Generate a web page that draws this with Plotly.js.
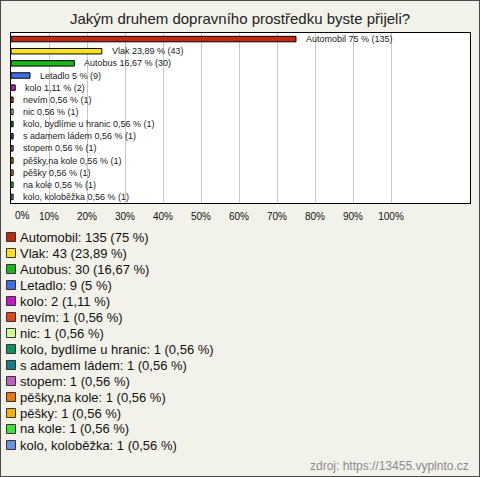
<!DOCTYPE html>
<html>
<head>
<meta charset="utf-8">
<script src="https://cdn.plot.ly/plotly-3.0.1.min.js"></script>
<style>
  html, body { margin: 0; padding: 0; background: #f3f2ea; }
  #chart { width: 478px; height: 475px; border: 1px solid #4a4a4a; }
</style>
</head>
<body>
<div id="chart"></div>
<script>
// ---- data ----
const categories = ["Automobil", "Vlak", "Autobus", "Letadlo", "kolo", "nevím", "nic",
  "kolo, bydlíme u hranic", "s adamem ládem", "stopem", "pěšky,na kole", "pěšky",
  "na kole", "kolo, koloběžka"];
const counts = [135, 43, 30, 9, 2, 1, 1, 1, 1, 1, 1, 1, 1, 1];
const percents = [75, 23.89, 16.67, 5, 1.11, 0.56, 0.56, 0.56, 0.56, 0.56, 0.56, 0.56, 0.56, 0.56];
const colors = ["#c0280f", "#fce21b", "#1cb51c", "#3d6ee6", "#c418c8", "#e2461a", "#ccff99",
  "#10905a", "#1a7d8c", "#c060c0", "#e67a0a", "#f0b400", "#44e03c", "#6a94e0"];
const tickVals = [0, 10, 20, 30, 40, 50, 60, 70, 80, 90, 100];
const tickText = tickVals.map(v => v + "%");

const fmt = v => String(v).replace(".", ",");

// ---- geometry helpers (div pixel -> paper) ----
const W = 478, H = 475;
const M = { l: 10, r: 9, t: 32, b: 273 };
const PW = W - M.l - M.r, PH = H - M.t - M.b;
const px = x => (x - M.l) / PW;
const py = y => (H - M.b - y) / PH;

const tickFont = { family: "Liberation Sans, Arial, sans-serif", size: 10, color: "#111" };
const annotations = [];
const shapes = [];

// first tick label is drawn right of its gridline, as in the reference
annotations.push({
  x: tickVals[0], y: py(214), xref: "x", yref: "paper",
  text: tickText[0], showarrow: false, xanchor: "left", yanchor: "middle",
  xshift: 2, font: tickFont
});
const axisTickText = tickText.slice();
axisTickText[0] = "";

// bar labels
categories.forEach((c, i) => {
  annotations.push({
    x: percents[i], y: i, xref: "x", yref: "y",
    text: c + " " + fmt(percents[i]) + " % (" + counts[i] + ")",
    showarrow: false, xanchor: "left", yanchor: "middle", xshift: 8,
    font: { family: "Liberation Sans, Arial, sans-serif", size: 9, color: "#222" }
  });
});

// legend below
categories.forEach((c, i) => {
  const cy = 236 + 16 * i;
  shapes.push({
    type: "rect", xref: "paper", yref: "paper",
    x0: px(5.5), x1: px(14.5), y0: py(cy + 4.5), y1: py(cy - 4.5),
    fillcolor: colors[i], line: { color: "#333", width: 1 }
  });
  annotations.push({
    x: px(17), y: py(cy), xref: "paper", yref: "paper",
    text: c + ": " + counts[i] + " (" + fmt(percents[i]) + " %)",
    showarrow: false, xanchor: "left", yanchor: "middle",
    font: { family: "Liberation Sans, Arial, sans-serif", size: 13, color: "#111" }
  });
});

// source footer
annotations.push({
  x: px(470), y: py(465), xref: "paper", yref: "paper",
  text: "zdroj: https://13455.vyplnto.cz", showarrow: false,
  xanchor: "right", yanchor: "middle",
  font: { family: "Liberation Sans, Arial, sans-serif", size: 12, color: "#8a8a8a" }
});

const trace = {
  type: "bar", orientation: "h",
  x: percents, y: categories.map((c, i) => i),
  width: 0.45,
  marker: { color: colors, line: { color: "#000", width: 1 } },
  hoverinfo: "skip"
};

const layout = {
  width: W, height: H,
  margin: M,
  paper_bgcolor: "#f3f2ea",
  plot_bgcolor: "#ffffff",
  showlegend: false,
  title: {
    text: "Jakým druhem dopravního prostředku byste přijeli?",
    x: 0.5, xanchor: "center", xref: "container",
    y: 1 - 18 / H, yanchor: "middle", yref: "container",
    font: { family: "Liberation Sans, Arial, sans-serif", size: 15, color: "#222" }
  },
  xaxis: {
    range: [0, PW / 3.8],
    tickvals: tickVals, ticktext: axisTickText,
    showgrid: true, gridcolor: "#c8c8c8", gridwidth: 1,
    zeroline: false,
    showline: true, mirror: true, linecolor: "#000", linewidth: 1,
    ticks: "", ticklabelstandoff: 4,
    tickfont: tickFont,
    fixedrange: true
  },
  yaxis: {
    range: [13.5, -0.5],
    showticklabels: false, showgrid: false, zeroline: false,
    showline: true, mirror: true, linecolor: "#000", linewidth: 1,
    ticks: "", fixedrange: true
  },
  bargap: 0,
  annotations: annotations,
  shapes: shapes
};

Plotly.newPlot("chart", [trace], layout, { displayModeBar: false, staticPlot: true });
</script>
</body>
</html>
